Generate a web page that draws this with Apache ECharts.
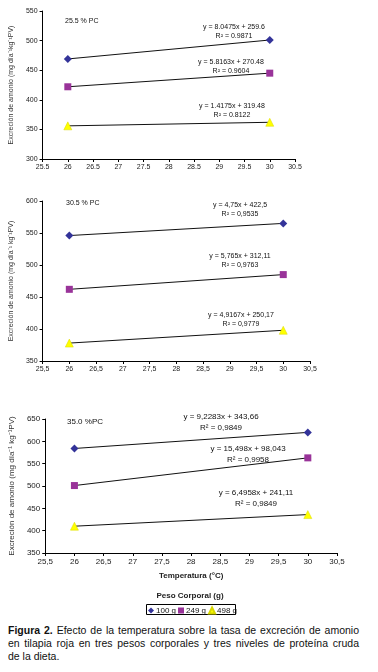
<!DOCTYPE html>
<html><head><meta charset="utf-8">
<script src="https://cdn.jsdelivr.net/npm/echarts@6/dist/echarts.min.js"></script>
<style>
html,body{margin:0;padding:0;background:#fff;}
#c{width:378px;height:622px;}
#cap{position:absolute;left:8px;top:624px;width:351px;font-family:"Liberation Sans",Arial,sans-serif;font-size:10.5px;line-height:13px;color:#111;}
#cap .j{text-align:justify;text-align-last:justify;white-space:nowrap;}
</style></head>
<body>
<div id="c"></div>
<div id="cap"><div class="j"><b>Figura 2.</b> Efecto de la temperatura sobre la tasa de excreción de amonio</div><div class="j">en tilapia roja en tres pesos corporales y tres niveles de proteína cruda</div><div>de la dieta.</div></div>
<script>
// ---- data ----
var temps = [26, 30];
var p1_100 = [469, 501], p1_249 = [422, 445], p1_498 = [356, 362];
var p2_100 = [546, 565], p2_249 = [462, 485], p2_498 = [378, 398];
var p3_100 = [584, 620], p3_249 = [501, 563], p3_498 = [410, 436];
var seriesNames = ['100 g', '249 g', '498 g'];
var panelTitles = ['25.5 % PC', '30.5 % PC', '35.0 %PC'];
var xTicks1 = ['25.5','26','26.5','27','27.5','28','28.5','29','29.5','30','30.5'];
var xTicks23 = ['25,5','26','26,5','27','27,5','28','28,5','29','29,5','30','30,5'];
var eq1 = [['y = 8.0475x + 259.6','R² = 0.9871'],['y = 5.8163x + 270.48','R² = 0.9604'],['y = 1.4175x + 319.48','R² = 0.8122']];
var eq2 = [['y = 4,75x + 422,5','R² = 0,9535'],['y = 5,765x + 312,11','R² = 0,9763'],['y = 4,9167x + 250,17','R² = 0,9779']];
var eq3 = [['y = 9,2283x + 343,66','R² = 0,9849'],['y = 15,498x + 98,043','R² = 0,9958'],['y = 6,4958x + 241,11','R² = 0,9849']];

var FONT = '"Liberation Sans", Arial, sans-serif';
var colors = ['#333399', '#993399', '#FFFF00'];
var symbols = ['diamond', 'rect', 'triangle'];
var symSizes = [8, 7, 8];

function pairs(v){ return temps.map(function(t,i){ return [t, v[i]]; }); }
function xfmt(arr){ return function(v){ return arr[Math.round((v-25.5)/0.5)]; }; }

var grids = [
  {left:42, top:11, width:253, height:148},
  {left:42, top:201, width:268, height:160},
  {left:42, top:419, width:295, height:134}
];
var yRanges = [[300,550],[350,600],[350,650]];
var fs = [7, 7, 8];
var yName1 = 'Excreción de amonio (mg día⁻¹kg⁻¹PV)';
var yName23 = 'Excreción de amonio (mg día⁻¹ kg⁻¹PV)';

var xAxes = [], yAxes = [], series = [];
for (var g=0; g<3; g++){
  xAxes.push({gridIndex:g, type:'value', min:25.5, max:30.5, interval:0.5,
    axisLine:{lineStyle:{color:'#000', width:1}},
    axisTick:{show:true, length:3, lineStyle:{color:'#000'}},
    axisLabel:{fontSize:fs[g], color:'#222', fontFamily:FONT, margin:5, formatter: xfmt(g===0?xTicks1:xTicks23)},
    splitLine:{show:false},
    name: g===2 ? 'Temperatura (°C)' : '', nameLocation:'middle', nameGap:19,
    nameTextStyle:{fontSize:8, fontWeight:'bold', color:'#222', fontFamily:FONT}
  });
  yAxes.push({gridIndex:g, type:'value', min:yRanges[g][0], max:yRanges[g][1], interval:50,
    axisLine:{show:true, lineStyle:{color:'#000', width:1}},
    axisTick:{show:true, length:3, lineStyle:{color:'#000'}},
    axisLabel:{fontSize:fs[g], color:'#222', fontFamily:FONT, margin:5},
    splitLine:{show:false},
    name: g===0 ? yName1 : yName23, nameLocation:'middle', nameGap: g===2 ? 25 : 21,
    nameTextStyle:{fontSize:fs[g], color:'#333', fontFamily:FONT}
  });
}
var panelData = [[p1_100,p1_249,p1_498],[p2_100,p2_249,p2_498],[p3_100,p3_249,p3_498]];
for (var g=0; g<3; g++){
  for (var s=0; s<3; s++){
    series.push({name:seriesNames[s], type:'line', xAxisIndex:g, yAxisIndex:g,
      data:pairs(panelData[g][s]), symbol:symbols[s], symbolSize:symSizes[s],
      itemStyle:{color:colors[s], borderColor: s===2 ? '#d8d800' : colors[s], borderWidth: s===2?0.5:0},
      lineStyle:{color:'#111', width:1}, z: 3, animation:false, silent:true});
  }
}

// annotations
var eqPos = [
  [[234,27],[231,62],[232,106]],
  [[240,205],[240,256],[241,315]],
  [[221,417],[248,449],[256,493]]
];
var eqs = [eq1, eq2, eq3];
var titlePos = [[65,22],[66,204],[67,423]];
var graphics = [];
for (var g=0; g<3; g++){
  var f = g===2 ? 8 : 7;
  var dl = g===2 ? 11 : 9;
  graphics.push({type:'text', left:titlePos[g][0], top:titlePos[g][1]-f/2-1,
    style:{text:panelTitles[g], font: f+'px '+FONT, fill:'#111'}});
  for (var s=0; s<3; s++){
    graphics.push({type:'text', x:eqPos[g][s][0], y:eqPos[g][s][1],
      style:{text:eqs[g][s][0], font:f+'px '+FONT, fill:'#111', textAlign:'center', textVerticalAlign:'middle'}});
    graphics.push({type:'text', x:eqPos[g][s][0], y:eqPos[g][s][1]+dl,
      style:{text:eqs[g][s][1], font:f+'px '+FONT, fill:'#111', textAlign:'center', textVerticalAlign:'middle'}});
  }
}
graphics.push({type:'text', x:190, y:596, style:{text:'Peso Corporal (g)', font:'bold 8px '+FONT, fill:'#222', textAlign:'center', textVerticalAlign:'middle'}});
graphics.push({type:'rect', shape:{x:146.5, y:604.5, width:89, height:10}, style:{fill:'none', stroke:'#000', lineWidth:1}});

var chart = echarts.init(document.getElementById('c'), null, {renderer:'canvas'});
chart.setOption({
  animation:false,
  backgroundColor:'#fff',
  grid: grids,
  xAxis: xAxes, yAxis: yAxes, series: series,
  legend:{data:seriesNames.map(function(n,i){return {name:n, icon: symbols[i]};}),
    left:148, top:606.5, itemWidth:6, itemHeight:6, itemGap:2, padding:0,
    textStyle:{fontSize:8, color:'#111', fontFamily:FONT, padding:[0,0,0,-3]}, selectedMode:false},
  graphic: graphics
});
</script>
</body></html>
